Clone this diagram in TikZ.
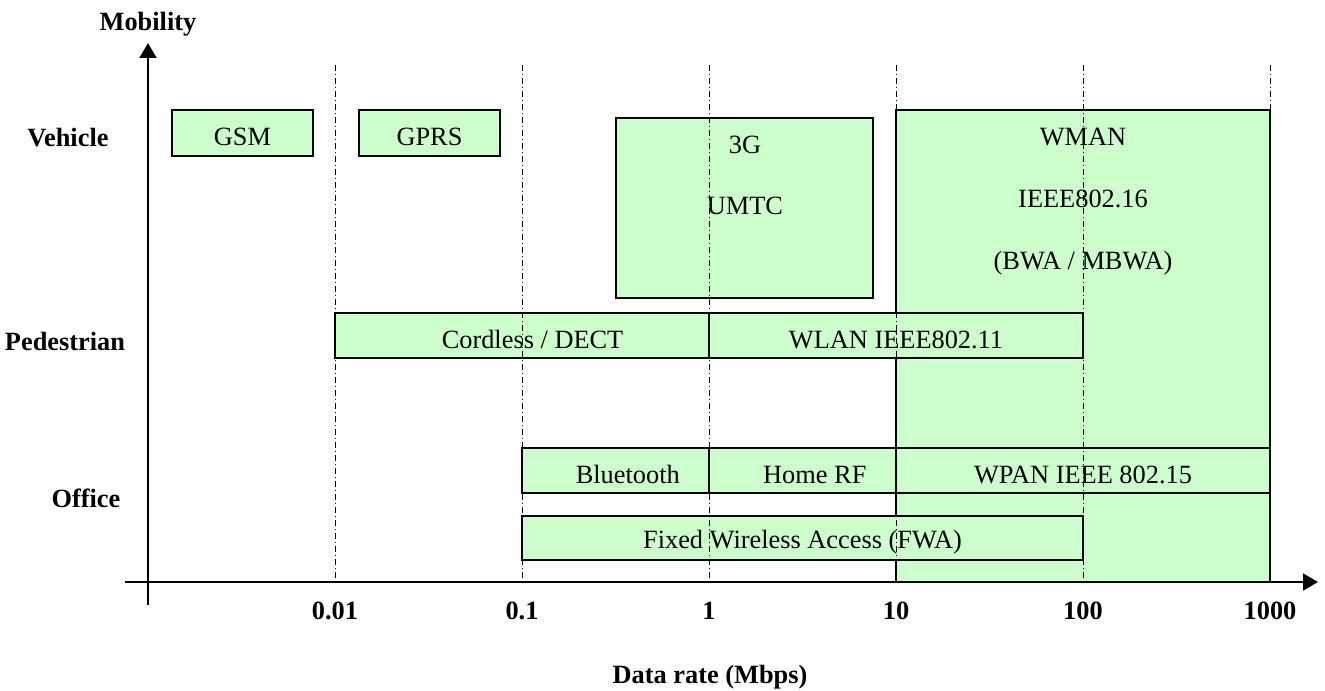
\documentclass[tikz,border=0pt]{standalone}
\usepackage{fontspec}
\setmainfont{Liberation Serif}
\usepackage{tikz}
\usetikzlibrary{arrows.meta}

\definecolor{netgreen}{HTML}{CCFFCC}
\tikzset{
  netbox/.style={draw=black, line width=1.1pt, fill=netgreen},
  intext/.style={yshift=-2.5pt},
  guide/.style={line width=0.5pt, dash pattern=on 3.4pt off 1.7pt on 0.6pt off 1.7pt},
  axis/.style={line width=1.4pt, -{Triangle[length=8.5pt,width=9.5pt]}},
  lbl/.style={font=\fontsize{15}{17}\selectfont\bfseries}
}

\begin{document}
\begin{tikzpicture}[x=0.02cm, y=-0.02cm, font=\fontsize{15}{17}\selectfont]
  \useasboundingbox (0,0) rectangle (1325,690);

  % wide WMAN band goes under everything else
  \draw[netbox] (896,110) rectangle (1270,582) node(wman)[pos=.5] {};
  \node(wmanA) at (1083,137) {WMAN};
  \node(wmanB) at (1083,199) {IEEE802.16};
  \node(wmanC) at (1083,263) {(BWA / MBWA)};

  \draw[netbox] (172,110) rectangle (313,156) node(gsm)[pos=.5,intext] {GSM};
  \draw[netbox] (359,110) rectangle (500,156) node(gprs)[pos=.5,intext] {GPRS};
  \draw[netbox] (616,118) rectangle (873,298) node(umts)[pos=.5] {};
  \node(umtsA) at (745,145) {3G};
  \node(umtsB) at (745,206) {UMTC};

  \draw[netbox] (335,313) rectangle (709,358) node(dect)[pos=.5,intext,xshift=6pt] {Cordless / DECT};
  \draw[netbox] (709,313) rectangle (1083,358) node(wlan)[pos=.5,intext] {WLAN IEEE802.11};

  \draw[netbox] (522,448) rectangle (709,493) node(bt)[pos=.5,intext,xshift=7pt] {Bluetooth};
  \draw[netbox] (709,448) rectangle (896,493) node(homerf)[pos=.5,intext,xshift=7pt] {Home RF};
  \draw[netbox] (896,448) rectangle (1270,493) node(wpan)[pos=.5,intext] {WPAN IEEE 802.15};
  \draw[netbox] (522,516) rectangle (1083,560) node(fwa)[pos=.5,intext] {Fixed Wireless Access (FWA)};

  % decade guides
  \draw[guide] (335,65) -- (335,582);
  \draw[guide] (522,65) -- (522,582);
  \draw[guide] (709,65) -- (709,582);
  \draw[guide] (896,65) -- (896,582);
  \draw[guide] (1083,65) -- (1083,582);
  \draw[guide] (1270,65) -- (1270,582);

  % axes
  \coordinate (yfoot) at (148,605);
  \coordinate (ytip) at (148,43);
  \coordinate (xfoot) at (125,582);
  \coordinate (xtip) at (1318,582);
  \draw[axis] (yfoot) -- (ytip);
  \draw[axis] (xfoot) -- (xtip);

  \node[lbl](mob) at (148,24) {Mobility};
  \node[lbl](veh) at (68,138) {Vehicle};
  \node[lbl](ped) at (65,341) {Pedestrian};
  \node[lbl](off) at (86,498) {Office};

  \node[lbl](t1) at (335,611) {0.01};
  \node[lbl](t2) at (522,611) {0.1};
  \node[lbl](t3) at (709,611) {1};
  \node[lbl](t4) at (896,611) {10};
  \node[lbl](t5) at (1083,611) {100};
  \node[lbl](t6) at (1270,611) {1000};
  \node[lbl](rate) at (710,677) {Data rate (Mbps)};
\end{tikzpicture}
\end{document}
